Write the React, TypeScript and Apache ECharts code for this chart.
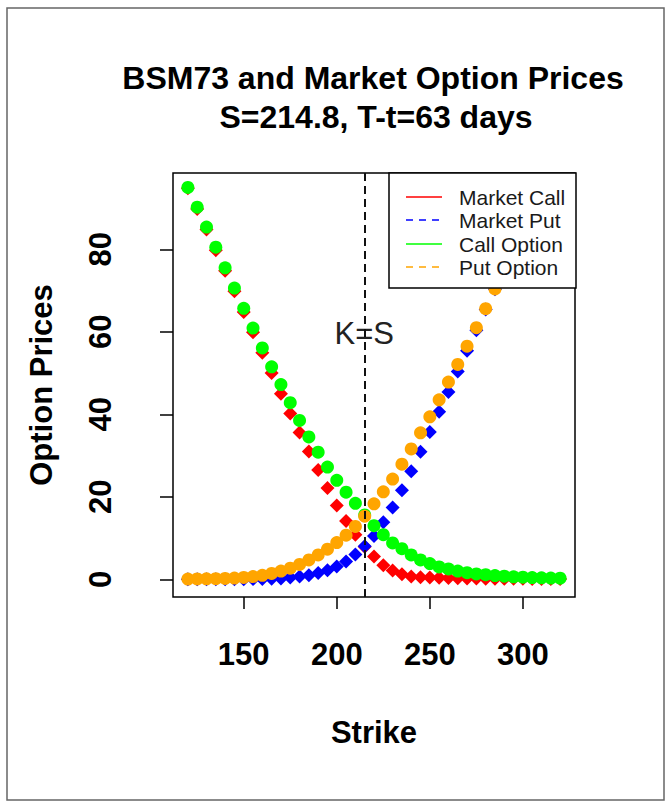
import React, { useEffect, useRef } from "react";
import * as echarts from "echarts";

const FONT = "'Liberation Sans', Arial, Helvetica, sans-serif";

const strikes = [
  120, 125, 130, 135, 140, 145, 150, 155, 160, 165, 170, 175, 180, 185, 190, 195, 200,
  205, 210, 215, 220, 225, 230, 235, 240, 245, 250, 255, 260, 265, 270, 275, 280, 285,
  290, 295, 300, 305, 310, 315, 320,
];

const marketCall = [
  94.8, 89.8, 84.8, 79.8, 74.8, 69.8, 64.8, 59.9, 54.9, 50.0, 45.0, 40.2, 35.6, 31.0,
  26.5, 22.1, 17.9, 14.1, 10.8, 7.9, 5.5, 3.4, 2.1, 1.2, 0.7, 0.5, 0.4, 0.35, 0.3, 0.25,
  0.2, 0.2, 0.15, 0.15, 0.1, 0.1, 0.1, 0.05, 0.05, 0.05, 0.05,
];

const marketPut = [
  0, 0, 0, 0, 0, 0.01, 0.02, 0.04, 0.07, 0.12, 0.2, 0.4, 0.7, 1.0, 1.5, 2.2, 3.1, 4.3,
  6.0, 8.0, 10.5, 13.8, 17.4, 21.6, 26.2, 30.9, 35.7, 40.6, 45.4, 50.4, 55.4, 60.4, 65.4,
  70.3, 75.3, 80.3, 85.3, 90.3, 95.3, 100.2, 105.2,
];

const callOption = [
  95.0, 90.2, 85.4, 80.5, 75.5, 70.6, 65.7, 60.9, 56.1, 51.5, 47.2, 42.8, 38.5, 34.5,
  30.8, 27.2, 24.0, 21.1, 18.4, 15.6, 13.0, 10.8, 8.8, 7.4, 5.9, 4.7, 3.8, 3.0, 2.5, 2.0,
  1.6, 1.3, 1.1, 0.9, 0.75, 0.6, 0.5, 0.4, 0.35, 0.3, 0.25,
];

const putOption = [
  0.05, 0.07, 0.1, 0.15, 0.2, 0.3, 0.45, 0.65, 0.95, 1.4, 2.0, 2.7, 3.6, 4.7, 5.9, 7.3,
  8.9, 10.7, 12.8, 15.3, 18.3, 21.2, 24.3, 27.9, 31.6, 35.5, 39.4, 43.5, 47.8, 52.1, 56.5,
  61.0, 65.6, 70.4, 75.1, 79.9, 84.7, 89.6, 94.6, 99.5, 104.5,
];

const spot = 214.8;
const xTicks = [150, 200, 250, 300];
const yTicks = [0, 20, 40, 60, 80];

const legendItems = [
  { name: "Market Call", color: "#FF0000", dashed: false },
  { name: "Market Put", color: "#0000FF", dashed: true },
  { name: "Call Option", color: "#00FF00", dashed: false },
  { name: "Put Option", color: "#FFA500", dashed: true },
];

const pairs = (ys: number[]) => strikes.map((k, i) => [k, ys[i]]);

export default function App() {
  const ref = useRef<HTMLDivElement>(null);

  useEffect(() => {
    if (!ref.current) return;
    const chart = echarts.init(ref.current, null, { renderer: "svg" });

    const legendGraphics: any[] = [
      {
        type: "rect",
        shape: { x: 389, y: 173, width: 187, height: 115 },
        style: { fill: "#fff", stroke: "#000", lineWidth: 1.5 },
        z: 100,
      },
    ];
    const rowY = [197, 220, 244, 267];
    legendItems.forEach((it, i) => {
      legendGraphics.push({
        type: "line",
        shape: { x1: 406, y1: rowY[i], x2: 442, y2: rowY[i] },
        style: {
          stroke: it.color,
          lineWidth: 1.5,
          lineDash: it.dashed ? [7, 6] : null,
        },
        z: 101,
      });
      legendGraphics.push({
        type: "text",
        x: 459,
        y: rowY[i],
        style: {
          text: it.name,
          fill: "#1a1a1a",
          font: `21px ${FONT}`,
          textVerticalAlign: "middle",
          textAlign: "left",
        },
        z: 101,
      });
    });

    const option: any = {
      animation: false,
      backgroundColor: "#fff",
      grid: {
        show: true,
        left: 173,
        top: 173,
        width: 402,
        height: 424,
        borderColor: "#000",
        borderWidth: 1.5,
        backgroundColor: "transparent",
      },
      xAxis: {
        type: "value",
        min: 112,
        max: 328,
        name: "Strike",
        nameLocation: "middle",
        nameGap: 120,
        nameTextStyle: { fontSize: 31, fontWeight: "bold", color: "#000", fontFamily: FONT },
        axisLine: { show: false, onZero: false },
        splitLine: { show: false },
        axisTick: {
          show: true,
          length: 12,
          lineStyle: { color: "#000", width: 1.5 },
          customValues: xTicks,
        },
        axisLabel: {
          customValues: xTicks,
          fontSize: 31,
          fontWeight: "bold",
          color: "#000",
          fontFamily: FONT,
          margin: 42,
        },
      },
      yAxis: {
        type: "value",
        min: -4.3,
        max: 98.5,
        name: "Option Prices",
        nameLocation: "middle",
        nameGap: 116,
        nameRotate: 90,
        nameTextStyle: { fontSize: 31, fontWeight: "bold", color: "#000", fontFamily: FONT },
        axisLine: { show: false, onZero: false },
        splitLine: { show: false },
        axisTick: {
          show: true,
          length: 13,
          lineStyle: { color: "#000", width: 1.5 },
          customValues: yTicks,
        },
        axisLabel: {
          customValues: yTicks,
          rotate: 90,
          fontSize: 31,
          fontWeight: "bold",
          color: "#000",
          fontFamily: FONT,
          margin: 57,
        },
      },
      series: [
        {
          name: "Market Call",
          type: "scatter",
          symbol: "diamond",
          symbolSize: 14,
          itemStyle: { color: "#FF0000", opacity: 1 },
          data: pairs(marketCall),
          clip: true,
          z: 2,
        },
        {
          name: "Market Put",
          type: "scatter",
          symbol: "diamond",
          symbolSize: 14,
          itemStyle: { color: "#0000FF", opacity: 1 },
          data: pairs(marketPut),
          clip: true,
          z: 3,
        },
        {
          name: "Call Option",
          type: "scatter",
          symbol: "circle",
          symbolSize: 13,
          itemStyle: { color: "#00FF00", opacity: 1 },
          data: pairs(callOption),
          clip: true,
          z: 4,
        },
        {
          name: "Put Option",
          type: "scatter",
          symbol: "circle",
          symbolSize: 13,
          itemStyle: { color: "#FFA500", opacity: 1 },
          data: pairs(putOption),
          clip: true,
          z: 5,
        },
        {
          name: "K=S",
          type: "scatter",
          symbolSize: 0,
          data: [[spot, 59.6]],
          z: 6,
          itemStyle: { opacity: 1 },
          label: {
            show: true,
            position: "inside",
            formatter: "K=S",
            fontSize: 31,
            color: "#222",
            opacity: 1,
            fontFamily: FONT,
          },
          markLine: {
            silent: true,
            symbol: ["none", "none"],
            label: { show: false },
            lineStyle: { color: "#111", width: 2, type: [8, 5], opacity: 1 },
            data: [{ xAxis: spot }],
            z: 7,
          },
        },
      ],
      graphic: [
        {
          type: "rect",
          shape: { x: 7, y: 8, width: 657, height: 792 },
          style: { fill: "none", stroke: "#666", lineWidth: 1.5 },
          z: 0,
        },
        {
          type: "text",
          x: 373,
          y: 78,
          style: {
            text: "BSM73 and Market Option Prices",
            font: `bold 32px ${FONT}`,
            fill: "#000",
            textAlign: "center",
            textVerticalAlign: "middle",
          },
        },
        {
          type: "text",
          x: 376,
          y: 117,
          style: {
            text: "S=214.8, T-t=63 days",
            font: `bold 32px ${FONT}`,
            fill: "#000",
            textAlign: "center",
            textVerticalAlign: "middle",
          },
        },
        ...legendGraphics,
      ],
    };

    chart.setOption(option);
    return () => chart.dispose();
  }, []);

  return (
    <div
      ref={ref}
      style={{
        position: "absolute",
        left: 0,
        top: 0,
        width: 670,
        height: 807,
        background: "#fff",
      }}
    />
  );
}
